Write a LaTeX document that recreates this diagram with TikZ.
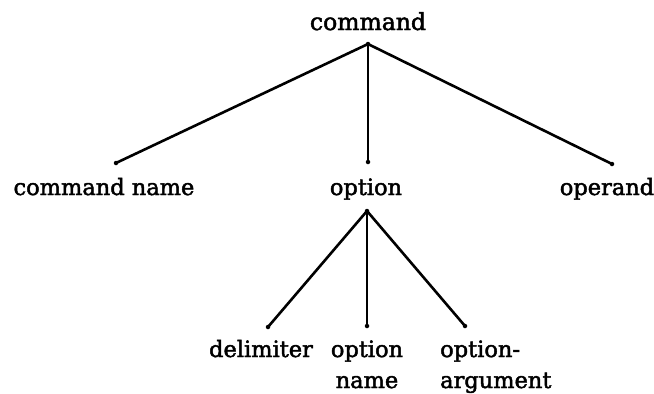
\documentclass[tikz,border=0pt]{standalone}
\usepackage{fontspec}
\setmainfont{DejaVu Serif}
\newfontfamily\lblfont{DejaVu Serif}[FakeBold=2]
\begin{document}
\begin{tikzpicture}[x=1pt,y=-1pt,
  lbl/.style={inner sep=0pt,font=\lblfont\fontsize{22.5}{31}\selectfont},
  toplbl/.style={inner sep=0pt,font=\lblfont\fontsize{23.5}{28}\selectfont},
  dot/.style={circle,fill=black,inner sep=0pt,minimum size=4.5pt},
  edge/.style={line width=2.6pt,line cap=round}]
\useasboundingbox (0,0) rectangle (654,394);
% labels
\node[toplbl,anchor=base] (cmd) at (368,30) {command};
\node[lbl,anchor=base] (cname) at (104,195) {command name};
\node[lbl,anchor=base] (opt) at (366,195) {option};
\node[lbl,anchor=base] (oper) at (607,195) {operand};
\node[lbl,anchor=base] (delim) at (261,357) {delimiter};
\node[lbl,anchor=base,align=center] (oname) at (367,388) {option\\name};
\node[lbl,anchor=base west,align=left] (oarg) at (440,388) {option-\\argument};
% junctions and ends
\node[dot] (a1) at (368,44) {};
\node[dot] (e1) at (116,163) {};
\node[dot] (e2) at (368,162) {};
\node[dot] (e3) at (612,164) {};
\node[dot] (a2) at (367,211) {};
\node[dot] (e4) at (268,327) {};
\node[dot] (e5) at (367,326) {};
\node[dot] (e6) at (465,326) {};
\draw[edge] (a1.center) -- (e1.center);
\draw[edge] (a1.center) -- (e2.center);
\draw[edge] (a1.center) -- (e3.center);
\draw[edge] (a2.center) -- (e4.center);
\draw[edge] (a2.center) -- (e5.center);
\draw[edge] (a2.center) -- (e6.center);
\end{tikzpicture}
\end{document}
